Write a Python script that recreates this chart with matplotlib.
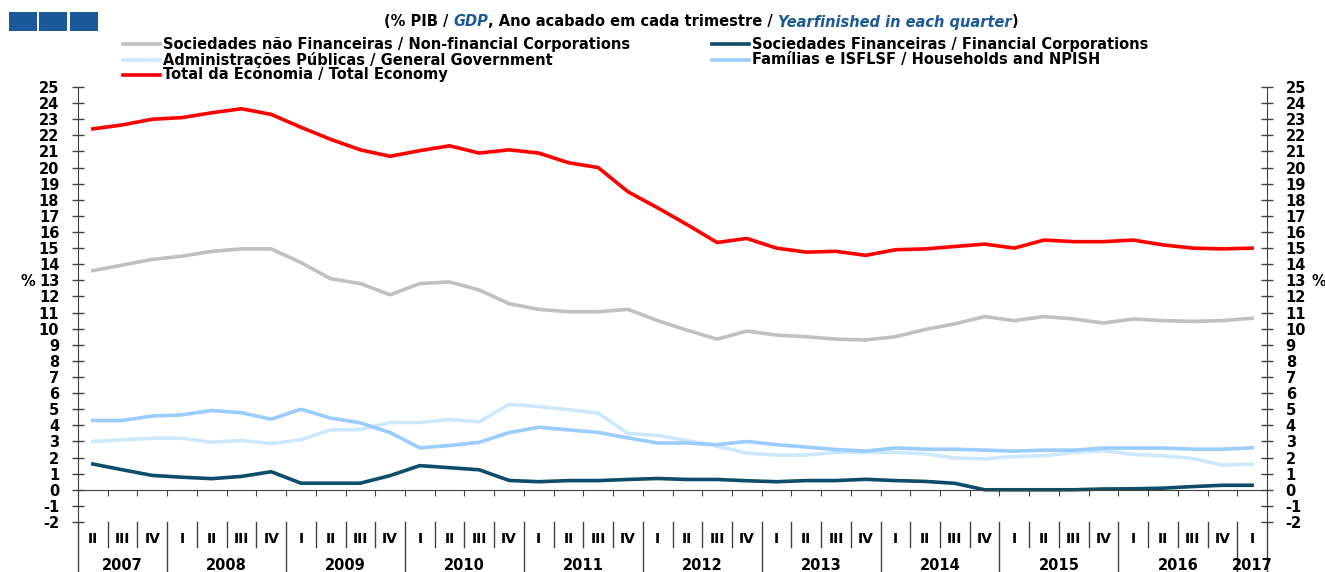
import matplotlib
matplotlib.use('Agg')
import matplotlib.pyplot as plt
import numpy as np
from matplotlib.lines import Line2D
from matplotlib.patches import Rectangle

plt.rcParams['font.family'] = ['DejaVu Sans']
plt.rcParams['font.weight'] = 'bold'

# quarter labels (2007 Q2 .. 2017 Q1)
quarters = ['II', 'III', 'IV'] + ['I', 'II', 'III', 'IV'] * 9 + ['I']
years = ['2007', '2008', '2009', '2010', '2011', '2012', '2013', '2014', '2015', '2016', '2017']
year_len = [3, 4, 4, 4, 4, 4, 4, 4, 4, 4, 1]

# % of GDP
non_fin = [13.6, 13.95, 14.3, 14.5, 14.8, 14.95, 14.95, 14.1, 13.1, 12.8,
           12.1, 12.8, 12.9, 12.4, 11.55, 11.2, 11.05, 11.05, 11.2, 10.5,
           9.9, 9.35, 9.85, 9.6, 9.5, 9.35, 9.3, 9.5, 9.95, 10.3,
           10.75, 10.5, 10.75, 10.6, 10.35, 10.6, 10.5, 10.45, 10.5, 10.65]
fin = [1.6, 1.24, 0.89, 0.78, 0.69, 0.83, 1.12, 0.41, 0.41, 0.41,
       0.88, 1.5, 1.37, 1.24, 0.58, 0.5, 0.57, 0.57, 0.64, 0.7,
       0.64, 0.64, 0.56, 0.5, 0.57, 0.57, 0.65, 0.57, 0.52, 0.4,
       0.0, 0.0, 0.0, 0.0, 0.05, 0.06, 0.1, 0.2, 0.28, 0.28]
gov = [3.0, 3.1, 3.2, 3.2, 2.95, 3.06, 2.87, 3.1, 3.72, 3.74,
       4.18, 4.18, 4.36, 4.22, 5.3, 5.17, 4.97, 4.76, 3.5, 3.37,
       3.06, 2.7, 2.28, 2.15, 2.15, 2.32, 2.32, 2.32, 2.23, 1.97,
       1.92, 2.07, 2.11, 2.32, 2.42, 2.2, 2.11, 1.94, 1.53, 1.59]
households = [4.3, 4.3, 4.58, 4.65, 4.92, 4.78, 4.38, 5.0, 4.45, 4.15,
              3.55, 2.6, 2.75, 2.95, 3.55, 3.88, 3.72, 3.56, 3.22, 2.9,
              2.9, 2.8, 3.0, 2.8, 2.65, 2.5, 2.4, 2.6, 2.52, 2.52,
              2.46, 2.4, 2.46, 2.46, 2.59, 2.59, 2.59, 2.52, 2.52, 2.6]
total = [22.4, 22.65, 23.0, 23.1, 23.4, 23.65, 23.3, 22.5, 21.75, 21.1,
         20.7, 21.05, 21.35, 20.9, 21.1, 20.9, 20.3, 20.0, 18.5, 17.5,
         16.45, 15.35, 15.6, 15.0, 14.75, 14.8, 14.55, 14.9, 14.95, 15.1,
         15.25, 15.0, 15.5, 15.4, 15.4, 15.5, 15.2, 15.0, 14.95, 15.0]

c_nonfin = '#C0C0C0'
c_fin = '#0B4D6B'
c_gov = '#CCE8FF'
c_hh = '#99CCFF'
c_tot = '#FF0000'
c_blue = '#1A5A9A'

W, H = 1325, 572
fig = plt.figure(figsize=(W / 100, H / 100), dpi=100)
ax = fig.add_axes([78 / W, 1 - 522 / H, (1267 - 78) / W, (522 - 87) / H])

x = np.arange(len(total))
lw = 2.6
ax.plot(x, non_fin, color=c_nonfin, lw=lw)
ax.plot(x, gov, color=c_gov, lw=lw)
ax.plot(x, households, color=c_hh, lw=lw)
ax.plot(x, fin, color=c_fin, lw=lw)
ax.plot(x, total, color=c_tot, lw=lw)

ax.set_xlim(-0.5, len(x) - 0.5)
ax.set_ylim(-2, 25)
ax.set_yticks(np.arange(-2, 26, 1))
ax.set_yticklabels([str(v) for v in range(-2, 26)])
ax.tick_params(axis='y', left=True, right=True, labelleft=True, labelright=True,
               direction='inout', length=8, width=1, color='#404040', pad=9.5, labelsize=10.5)
for lab in ax.get_yticklabels():
    lab.set_fontweight('bold')

# x axis sits on zero
ax.spines['top'].set_visible(False)
ax.spines['bottom'].set_position(('data', 0))
ax.spines['bottom'].set_color('#404040')
ax.spines['left'].set_color('#404040')
ax.spines['right'].set_color('#404040')
ax.set_xticks(np.arange(-0.5, len(x), 1))
ax.tick_params(axis='x', direction='out', length=4, color='#404040', labelbottom=False)

# axis lines go on down to the figure bottom
bot = -50 / 435
for xx in [-0.5, len(x) - 0.5]:
    ax.plot([xx, xx], [0, bot], transform=ax.get_xaxis_transform(), color='#404040', lw=1, clip_on=False)

# quarter and year labels below the plot
trans = ax.get_xaxis_transform()
for i, q in enumerate(quarters):
    ax.text(i, -0.040, q, transform=trans, ha='center', va='center', fontsize=10, fontweight='bold', clip_on=False)
start = 0
for y, n in zip(years, year_len):
    ax.text(start + (n - 1) / 2, -0.099, y, transform=trans, ha='center', va='center',
            fontsize=10.5, fontweight='bold', clip_on=False)
    start += n
    if start < len(x):
        ax.plot([start - 0.5, start - 0.5], [0, bot], transform=trans, color='#404040', lw=1, clip_on=False)
year_bounds = set(np.cumsum(year_len))
for b in range(1, len(x)):
    if b not in year_bounds:
        ax.plot([b - 0.5, b - 0.5], [0, -0.058], transform=trans, color='#404040', lw=1, clip_on=False)

# % labels
fig.text(28 / W, 1 - 282 / H, '%', ha='center', va='center', fontsize=10.5, fontweight='bold')
fig.text(1311 / W, 1 - 282 / H, '%', ha='left', va='center', fontsize=10.5, fontweight='bold')

# blue squares top-left
for x0 in [9, 39, 70]:
    fig.add_artist(Rectangle((x0 / W, 1 - 31 / H), 28 / W, 19 / H, transform=fig.transFigure,
                             facecolor=c_blue, edgecolor='none'))

# title with mixed colours
pieces = [('(% PIB / ', 'black', 'normal'), ('GDP', c_blue, 'italic'),
          (', Ano acabado em cada trimestre / ', 'black', 'normal'),
          ('Yearfinished in each quarter', c_blue, 'italic'), (')', 'black', 'normal')]
renderer = fig.canvas.get_renderer()
texts = []
widths = []
for s, col, st in pieces:
    t = fig.text(0, 1 - 22 / H, s, color=col, style=st, fontsize=10.5, fontweight='bold', va='center', ha='left')
    widths.append(t.get_window_extent(renderer).width)
    texts.append(t)
xpos = 701 - sum(widths) / 2
for t, w in zip(texts, widths):
    t.set_x(xpos / W)
    xpos += w

# legend drawn by hand
legend_items = [(123, 44, c_nonfin, 'Sociedades não Financeiras / Non-financial Corporations'),
                (712, 44, c_fin, 'Sociedades Financeiras / Financial Corporations'),
                (123, 59.5, c_gov, 'Administrações Públicas / General Government'),
                (712, 59.5, c_hh, 'Famílias e ISFLSF / Households and NPISH'),
                (123, 75, c_tot, 'Total da Economia / Total Economy')]
for lx, ly, col, lab in legend_items:
    fig.add_artist(Line2D([lx / W, (lx + 37) / W], [1 - ly / H, 1 - ly / H], transform=fig.transFigure,
                          color=col, lw=lw))
    fig.text((lx + 40) / W, 1 - ly / H, lab, ha='left', va='center', fontsize=10.5, fontweight='bold')

fig.savefig('out.png', dpi=100)
